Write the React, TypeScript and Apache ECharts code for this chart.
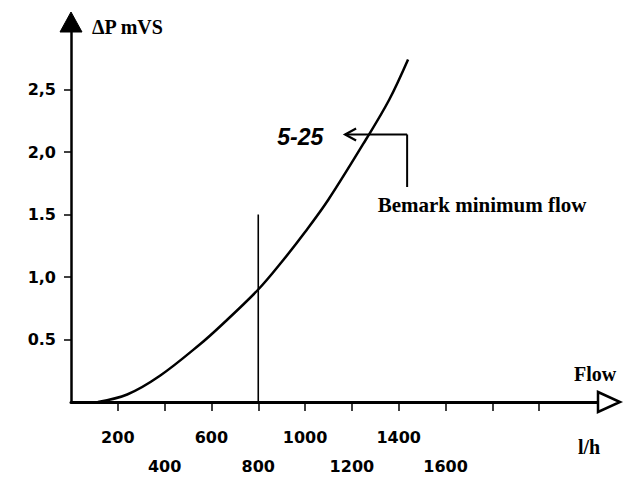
import React, { useEffect, useRef } from "react";
import * as echarts from "echarts";

// Curve 5-25 : pressure loss (m water column) against flow (l/h)
const flowValues = [115, 240, 380, 550, 640, 800, 900, 1000, 1100, 1260, 1360, 1440];
const pressureValues = [0, 0.06, 0.21, 0.46, 0.61, 0.9, 1.12, 1.36, 1.62, 2.1, 2.42, 2.74];

// axis ticks and labels
const xTickValues = [200, 400, 600, 800, 1000, 1200, 1400, 1600, 1800, 2000];
const xLabelValues = [200, 400, 600, 800, 1000, 1200, 1400, 1600];
const yTickValues = [0.5, 1.0, 1.5, 2.0, 2.5];
const yTickLabels = ["0.5", "1,0", "1.5", "2,0", "2,5"];

// minimum-flow marker and annotation
const minFlow = 800;
const minFlowTop = 1.5;
const curveName = "5-25";
const noteText = "Bemark minimum flow";
const arrowLevel = 2.14;
const arrowFrom = 1436;
const arrowTo = 1171;
const arrowDrop = 1.72;
const curveLabelAt = [1078, 2.12];
const noteAt = [1310, 1.58];
const xMax = 2260;
const yMax = 3;

const sans = '"DejaVu Sans", sans-serif';
const serif = '"Liberation Serif", serif';

export default function App() {
  const ref = useRef<HTMLDivElement>(null);
  useEffect(() => {
    if (!ref.current) return;
    const chart = echarts.init(ref.current, null, { renderer: "svg" });
    const curve = flowValues.map((f, i) => [f, pressureValues[i]]);
    chart.setOption({
      animation: false,
      backgroundColor: "#fff",
      grid: { left: 71, right: 27, top: 27, bottom: 78 },
      xAxis: {
        type: "value",
        min: 0,
        max: xMax,
        splitLine: { show: false },
        axisLine: { lineStyle: { color: "#000", width: 3 } },
        axisTick: {
          customValues: xTickValues,
          length: 9,
          lineStyle: { color: "#000", width: 1.5 },
        },
        axisLabel: {
          customValues: xLabelValues,
          margin: 27,
          color: "#000",
          fontFamily: sans,
          fontWeight: "bold",
          fontSize: 16,
          formatter: (v: number) => ((v / 200) % 2 === 1 ? "{u|" + v + "}" : "{l|" + v + "}"),
          rich: {
            u: { fontFamily: sans, fontWeight: "bold", fontSize: 16, color: "#000" },
            l: {
              fontFamily: sans,
              fontWeight: "bold",
              fontSize: 16,
              color: "#000",
              padding: [29, 0, 0, 0],
            },
          },
        },
      },
      yAxis: {
        type: "value",
        min: 0,
        max: yMax,
        name: "ΔP mVS",
        nameLocation: "end",
        nameGap: 0,
        nameTextStyle: {
          color: "#000",
          fontFamily: serif,
          fontWeight: "bold",
          fontSize: 20,
          align: "left",
          verticalAlign: "middle",
          padding: [0, 0, 0, 21],
        },
        splitLine: { show: false },
        axisLine: {
          onZero: false,
          lineStyle: { color: "#000", width: 2.5 },
        },
        axisTick: {
          customValues: yTickValues,
          length: 7,
          lineStyle: { color: "#000", width: 1.5 },
        },
        axisLabel: {
          customValues: yTickValues,
          margin: 15,
          color: "#000",
          fontFamily: sans,
          fontWeight: "bold",
          fontSize: 16,
          formatter: (v: number) => {
            const i = yTickValues.findIndex((t) => Math.abs(t - v) < 1e-6);
            return i >= 0 ? yTickLabels[i] : "";
          },
        },
      },
      graphic: [
        {
          type: "text",
          x: 574,
          y: 374,
          style: {
            text: "Flow",
            font: 'bold 20px "Liberation Serif"',
            fill: "#000",
            verticalAlign: "middle",
          },
        },
        {
          type: "text",
          x: 578,
          y: 447,
          style: {
            text: "l/h",
            font: 'bold 20px "Liberation Serif"',
            fill: "#000",
            verticalAlign: "middle",
          },
        },
      ],
      series: [
        {
          type: "line",
          data: curve,
          smooth: 0.35,
          showSymbol: false,
          silent: true,
          lineStyle: { color: "#000", width: 2.5 },
          z: 3,
        },
        {
          type: "custom",
          silent: true,
          clip: false,
          data: [[0, 0]],
          z: 4,
          renderItem: (params: any, api: any) => {
            const mb = api.coord([minFlow, 0]);
            const mt = api.coord([minFlow, minFlowTop]);
            const a0 = api.coord([arrowFrom, arrowLevel]);
            const a1 = api.coord([arrowTo, arrowLevel]);
            const ad = api.coord([arrowFrom, arrowDrop]);
            const cl = api.coord(curveLabelAt);
            const nt = api.coord(noteAt);
            const xe = api.coord([xMax, 0]);
            const ye = api.coord([0, yMax]);
            return {
              type: "group",
              children: [
                {
                  type: "line",
                  shape: { x1: mb[0], y1: mb[1], x2: mt[0], y2: mt[1] },
                  style: { stroke: "#000", lineWidth: 1.6 },
                },
                {
                  type: "line",
                  shape: { x1: a0[0], y1: a0[1], x2: a1[0], y2: a1[1] },
                  style: { stroke: "#000", lineWidth: 2.2 },
                },
                {
                  type: "polyline",
                  shape: {
                    points: [
                      [a1[0] + 11, a1[1] - 6],
                      [a1[0], a1[1]],
                      [a1[0] + 11, a1[1] + 6],
                    ],
                  },
                  style: { stroke: "#000", lineWidth: 2.2, fill: "none" },
                },
                {
                  type: "line",
                  shape: { x1: a0[0], y1: a0[1], x2: ad[0], y2: ad[1] },
                  style: { stroke: "#000", lineWidth: 2 },
                },
                {
                  type: "text",
                  x: cl[0],
                  y: cl[1],
                  style: {
                    text: curveName,
                    font: 'italic bold 23px "Liberation Sans"',
                    fill: "#000",
                    align: "right",
                    verticalAlign: "middle",
                  },
                },
                {
                  type: "text",
                  x: nt[0],
                  y: nt[1],
                  style: {
                    text: noteText,
                    font: 'bold 21px "Liberation Serif"',
                    fill: "#000",
                    align: "left",
                    verticalAlign: "middle",
                  },
                },
                {
                  type: "polygon",
                  shape: {
                    points: [
                      [xe[0] - 2, xe[1] - 10],
                      [xe[0] + 20, xe[1]],
                      [xe[0] - 2, xe[1] + 10],
                    ],
                  },
                  style: { stroke: "#000", lineWidth: 2.5, fill: "#fff" },
                },
                {
                  type: "polygon",
                  shape: {
                    points: [
                      [ye[0] - 11, ye[1] + 5],
                      [ye[0], ye[1] - 15],
                      [ye[0] + 11, ye[1] + 5],
                    ],
                  },
                  style: { fill: "#000", stroke: "#000", lineWidth: 1 },
                },
              ],
            };
          },
        },
      ],
    });
    return () => chart.dispose();
  }, []);
  return (
    <div
      ref={ref}
      style={{ position: "absolute", left: 0, top: 0, width: 627, height: 480 }}
    />
  );
}
